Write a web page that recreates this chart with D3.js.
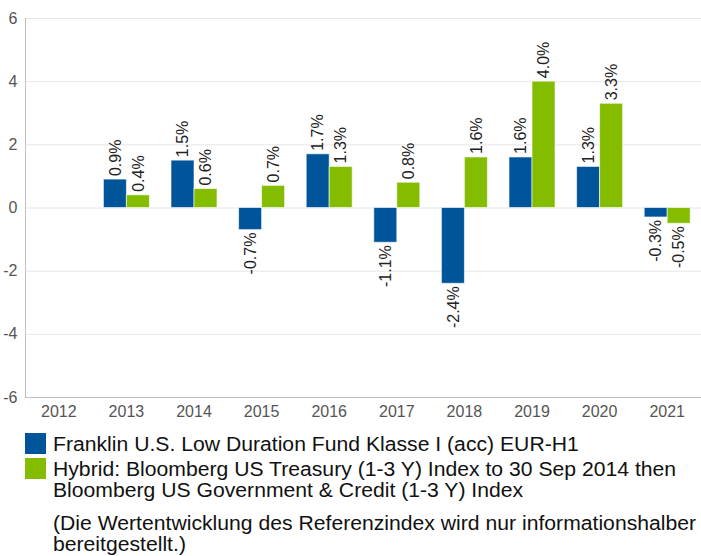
<!DOCTYPE html>
<html>
<head>
<meta charset="utf-8">
<script src="https://cdn.jsdelivr.net/npm/d3@7"></script>
<style>
  body { margin: 0; background: #fff; }
  text { font-family: "Liberation Sans", Arial, sans-serif; }
</style>
</head>
<body>
<script>
// chart data
var years = ["2012", "2013", "2014", "2015", "2016", "2017", "2018", "2019", "2020", "2021"];
var fundValues = [null, 0.9, 1.5, -0.7, 1.7, -1.1, -2.4, 1.6, 1.3, -0.3];
var indexValues = [null, 0.4, 0.6, 0.7, 1.3, 0.8, 1.6, 4.0, 3.3, -0.5];
var yTicks = [-6, -4, -2, 0, 2, 4, 6];
var seriesNames = ["Franklin U.S. Low Duration Fund Klasse I (acc) EUR-H1",
  "Hybrid: Bloomberg US Treasury (1-3 Y) Index to 30 Sep 2014 then",
  "Bloomberg US Government & Credit (1-3 Y) Index"];
var noteLines = ["(Die Wertentwicklung des Referenzindex wird nur informationshalber",
  "bereitgestellt.)"];

var W = 701;
var H = 556;
var Left = 25, Right = 701, Top = 18, Bottom = 397;
var colors = ["#00559A", "#84BC00"];

function main() {
  var svg = d3.select("body").append("svg")
    .attr("width", W)
    .attr("height", H);

  var x = d3.scaleBand().domain(years).range([Left, Right]);
  var x1 = d3.scaleBand().domain([0, 1]).range([-23, 23]);
  var y = d3.scaleLinear().domain([-6, 6]).range([Bottom, Top]);

  // gridlines
  svg.append("g").selectAll("line")
    .data(yTicks.filter(function(d) { return d > -6; }))
    .enter().append("line")
    .attr("x1", Left).attr("x2", Right)
    .attr("y1", function(d) { return y(d) + 0.5; })
    .attr("y2", function(d) { return y(d) + 0.5; })
    .style("stroke", "#e6e6e6");

  // y axis (plain hyphen for negatives, like the original)
  var yAxis = d3.axisLeft(y).tickValues(yTicks).tickSize(0).tickPadding(8)
    .tickFormat(function(d) { return String(d); });
  var gy = svg.append("g").attr("transform", "translate(" + (Left + 0.5) + ",0)").call(yAxis);
  gy.select(".domain").style("stroke", "#c0c0c0").attr("d", "M0," + Top + "V" + Bottom);
  gy.selectAll("text").style("font-size", "16px").style("fill", "#555")
    .style("font-family", "Liberation Sans, Arial, sans-serif");

  // x axis
  var xAxis = d3.axisBottom(x).tickSize(0).tickPadding(8);
  var gx = svg.append("g").attr("transform", "translate(0," + (Bottom + 0.5) + ")").call(xAxis);
  gx.select(".domain").style("stroke", "#c0c0c0").attr("d", "M" + Left + ",0H" + Right);
  gx.selectAll("text").style("font-size", "16px").style("fill", "#555")
    .style("font-family", "Liberation Sans, Arial, sans-serif");

  // bars
  var rows = [];
  years.forEach(function(yr, i) {
    [fundValues[i], indexValues[i]].forEach(function(v, s) {
      if (v !== null) rows.push({year: yr, s: s, v: v});
    });
  });

  var cx = function(d) { return x(d.year) + x.bandwidth() / 2 + x1(d.s); };

  svg.append("g").selectAll("rect")
    .data(rows)
    .enter().append("rect")
    .attr("x", cx)
    .attr("width", x1.bandwidth())
    .attr("y", function(d) { return y(Math.max(0, d.v)); })
    .attr("height", function(d) { return Math.abs(y(d.v) - y(0)); })
    .style("fill", function(d) { return colors[d.s]; })
    .style("stroke", "#fff")
    .style("stroke-opacity", 0.6)
    .style("stroke-width", 1);

  // value labels
  svg.append("g").selectAll("text")
    .data(rows)
    .enter().append("text")
    .attr("transform", function(d) {
      var px = cx(d) + x1.bandwidth() / 2;
      var py = d.v >= 0 ? y(d.v) - 3 : y(d.v) + 3;
      return "translate(" + px + "," + py + ") rotate(-90)";
    })
    .attr("dy", "0.36em")
    .attr("text-anchor", function(d) { return d.v >= 0 ? "start" : "end"; })
    .style("font-size", "16px")
    .style("fill", "#222")
    .text(function(d) { return d.v.toFixed(1) + "%"; });

  // legend
  var leg = svg.append("g");
  leg.append("rect").attr("x", 25).attr("y", 433).attr("width", 21).attr("height", 21).style("fill", colors[0]);
  leg.append("rect").attr("x", 25).attr("y", 458).attr("width", 21).attr("height", 21).style("fill", colors[1]);

  var lines = [
    {t: seriesNames[0], y: 451.5},
    {t: seriesNames[1], y: 476.5},
    {t: seriesNames[2], y: 497.5},
    {t: noteLines[0], y: 530.5},
    {t: noteLines[1], y: 551.5}
  ];
  var lt = leg.selectAll("text.leg")
    .data(lines)
    .enter().append("text")
    .attr("class", "leg")
    .attr("x", 0)
    .attr("y", function(d) { return d.y; })
    .style("font-size", "21px")
    .style("fill", "#111")
    .text(function(d) { return d.t; });

  // the legend font is narrow, squeeze to fit the reference width
  var w0 = lt.node().getComputedTextLength();
  var k = 526 / w0;
  lt.attr("transform", function() { return "translate(53,0) scale(" + k + ",1)"; });
}

main();
</script>
</body>
</html>
